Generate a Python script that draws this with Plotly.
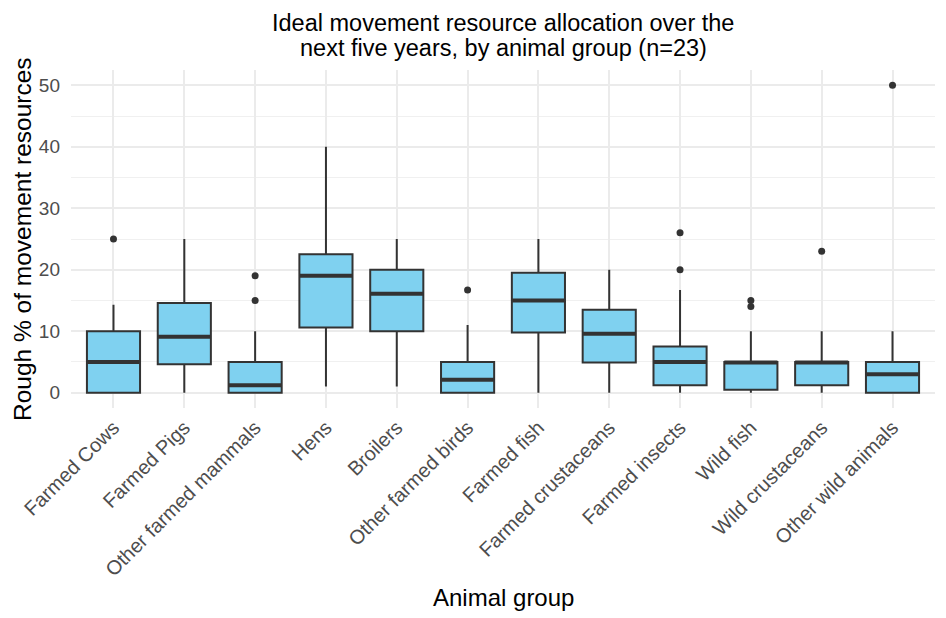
import plotly.graph_objects as go

# animal groups in plotting order
groups = [
    "Farmed Cows", "Farmed Pigs", "Other farmed mammals", "Hens", "Broilers",
    "Other farmed birds", "Farmed fish", "Farmed crustaceans", "Farmed insects",
    "Wild fish", "Wild crustaceans", "Other wild animals",
]

# box statistics
lower_whisker = [0, 0, 0, 1, 1, 0, 0, 0, 0, 0, 0, 0]
q1 = [0, 4.6, 0, 10.6, 10, 0, 9.8, 4.9, 1.2, 0.45, 1.2, 0]
median = [5, 9.1, 1.2, 19, 16.1, 2.1, 15, 9.6, 5, 4.9, 4.9, 3]
q3 = [10, 14.6, 5, 22.5, 20, 5, 19.5, 13.5, 7.5, 5, 5, 5]
upper_whisker = [14.3, 25, 10, 40, 25, 11, 25, 20, 16.7, 10, 10, 10]

# outliers per group
outliers = [
    [25], [], [15, 19], [], [], [16.7], [], [], [20, 26], [14, 15], [23], [50],
]

title_lines = [
    "Ideal movement resource allocation over the",
    "next five years, by animal group (n=23)",
]

FILL = "#7FD1F0"
LINE = "#333333"
FONT = "Liberation Sans"

pos = list(range(len(groups)))
half = 0.375

fig = go.Figure()

fig.add_trace(go.Box(
    x=pos,
    q1=q1,
    median=median,
    q3=q3,
    lowerfence=lower_whisker,
    upperfence=upper_whisker,
    width=0.75,
    whiskerwidth=0,
    fillcolor=FILL,
    line=dict(color=LINE, width=2),
    boxpoints=False,
    hoverinfo="skip",
    showlegend=False,
))

# thicker median bars like ggplot
med_x, med_y = [], []
for i, m in zip(pos, median):
    med_x += [i - half, i + half, None]
    med_y += [m, m, None]
fig.add_trace(go.Scatter(
    x=med_x, y=med_y, mode="lines",
    line=dict(color=LINE, width=4),
    hoverinfo="skip", showlegend=False,
))

# outlier points
out_x, out_y = [], []
for i, vals in zip(pos, outliers):
    out_x += [i] * len(vals)
    out_y += vals
fig.add_trace(go.Scatter(
    x=out_x, y=out_y, mode="markers",
    marker=dict(color=LINE, size=7),
    hoverinfo="skip", showlegend=False,
))

# the page body adds an 8px offset, so margins are set 8px smaller
ML, MT = 63, 62
PW, PH = 864, 338
BOTTOM = MT + PH


def py(fig_y):
    # pixel row in the figure -> paper y
    return (BOTTOM - fig_y) / PH


# title lines, each centred over the panel
annotations = [
    dict(
        text=line, x=0.5, y=py(fig_y), xref="paper", yref="paper",
        xanchor="center", yanchor="middle", showarrow=False,
        font=dict(size=23.5, color="black"),
    )
    for line, fig_y in zip(title_lines, [15, 40])
]
annotations += [
    dict(
        text="Animal group", x=0.5, y=py(589),
        xref="paper", yref="paper", xanchor="center", yanchor="middle",
        showarrow=False, font=dict(size=24, color="black"),
    ),
    dict(
        text="Rough % of movement resources", x=-(ML - 14) / PW, y=0.5,
        xref="paper", yref="paper", xanchor="center", yanchor="middle",
        textangle=-90, showarrow=False, font=dict(size=24.5, color="black"),
    ),
]

fig.update_layout(
    width=946,
    height=618,
    margin=dict(l=ML, r=946 - ML - PW, t=MT, b=618 - BOTTOM),
    paper_bgcolor="white",
    plot_bgcolor="white",
    font=dict(family=FONT, color="black"),
    xaxis=dict(
        range=[-0.6, 11.6],
        tickvals=pos,
        ticktext=groups,
        tickangle=-45,
        tickfont=dict(size=20, color="#4D4D4D"),
        showgrid=True,
        gridcolor="#EBEBEB",
        gridwidth=1.5,
        zeroline=False,
        showline=False,
        ticks="",
        ticklabelstandoff=3,
        automargin=False,
    ),
    yaxis=dict(
        range=[-2.5, 52.5],
        tickvals=[0, 10, 20, 30, 40, 50],
        tickfont=dict(size=19, color="#4D4D4D"),
        showgrid=True,
        gridcolor="#EBEBEB",
        gridwidth=1.5,
        minor=dict(tickvals=[5, 15, 25, 35, 45], showgrid=True, gridcolor="#F0F0F0", gridwidth=1),
        zeroline=False,
        showline=False,
        ticks="",
        ticklabelstandoff=10,
        automargin=False,
    ),
    annotations=annotations,
)

fig.write_html("out.html")
